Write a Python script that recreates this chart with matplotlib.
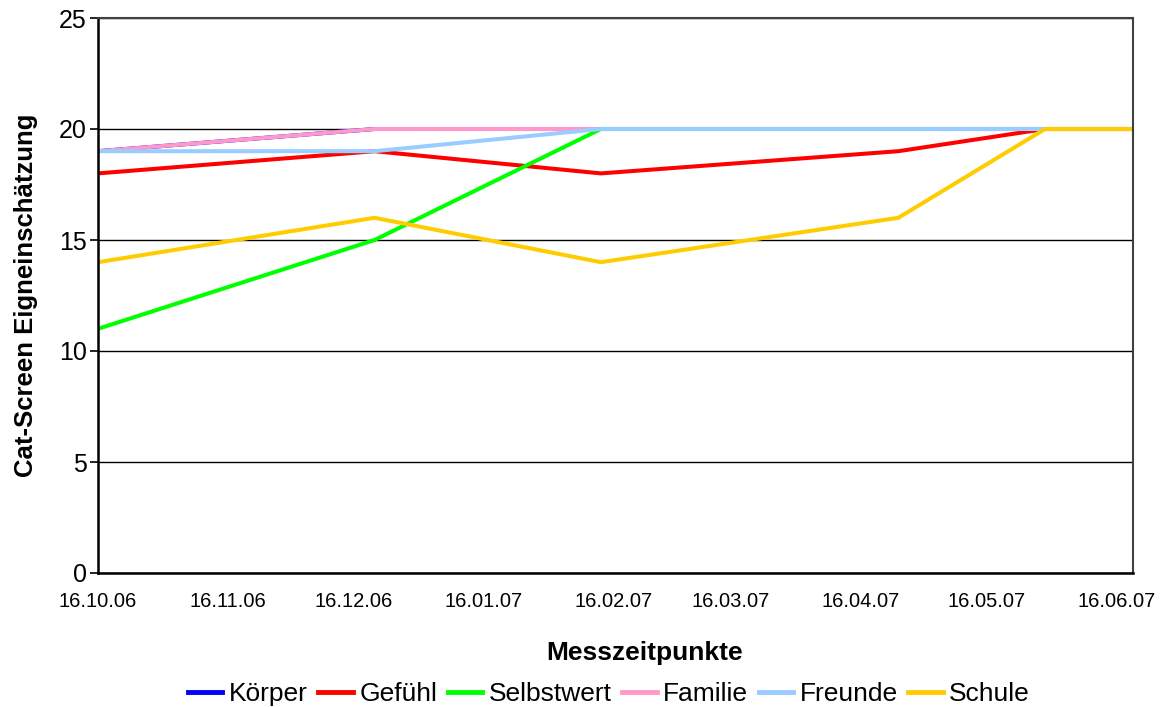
import numpy as np
import matplotlib.pyplot as plt
import matplotlib.dates as mdates
from datetime import datetime

plt.rcParams['font.family'] = ['Liberation Sans', 'DejaVu Sans']

#%% Data
dates = [datetime(2006, 10, 16), datetime(2006, 12, 21), datetime(2007, 2, 13),
         datetime(2007, 4, 25), datetime(2007, 5, 30), datetime(2007, 6, 20)]

koerper    = [19, 20, 20, 20, 20, 20]
gefuehl    = [18, 19, 18, 19, 20, 20]
selbstwert = [11, 15, 20, 20, 20, 20]
familie    = [19, 20, 20, 20, 20, 20]
freunde    = [19, 19, 20, 20, 20, 20]
schule     = [14, 16, 14, 16, 20, 20]

series = [("Körper", koerper, "#0000FF"),
          ("Gefühl", gefuehl, "#FF0000"),
          ("Selbstwert", selbstwert, "#00FF00"),
          ("Familie", familie, "#FF99CC"),
          ("Freunde", freunde, "#99CCFF"),
          ("Schule", schule, "#FFCC00")]

tick_dates = [datetime(2006, 10, 16), datetime(2006, 11, 16), datetime(2006, 12, 16),
              datetime(2007, 1, 16), datetime(2007, 2, 16), datetime(2007, 3, 16),
              datetime(2007, 4, 16), datetime(2007, 5, 16), datetime(2007, 6, 16)]

#%% Figure
fig = plt.figure(figsize=(11.62, 7.07), dpi=100)
ax = fig.add_axes([98/1162, 1 - 573/707, (1133 - 98)/1162, (573 - 18)/707])

for name, vals, col in series:
    ax.plot(dates, vals, color=col, lw=2.9, label=name, solid_joinstyle='miter')

ax.set_ylim(0, 25)
ax.set_yticks(np.arange(0, 26, 5))
ax.set_xlim(datetime(2006, 10, 16), datetime(2007, 6, 20))
ax.set_xticks(tick_dates)
ax.xaxis.set_major_formatter(mdates.DateFormatter('%d.%m.%y'))

ax.yaxis.grid(True, color='black', lw=1)
ax.set_axisbelow(True)
ax.tick_params(axis='y', labelsize=18, length=6, width=1.2, direction='out', pad=2)
ax.tick_params(axis='x', labelsize=14.5, length=0, pad=14)

for s in ['left', 'bottom']:
    ax.spines[s].set_color('black')
    ax.spines[s].set_linewidth(1.8)
for s in ['right', 'top']:
    ax.spines[s].set_color('#404040')
    ax.spines[s].set_linewidth(1.5)

ax.set_ylabel('Cat-Screen Eigneinschätzung', fontsize=18.5, fontweight='bold')
ax.yaxis.set_label_coords(-(98 - 38)/1035, 0.5)
ax.set_xlabel('Messzeitpunkte', fontsize=19, fontweight='bold')
ax.xaxis.set_label_coords((645 - 98)/1035, -(641 - 573)/555)

leg = fig.legend(loc='center', bbox_to_anchor=(609/1162, 1 - 694/707), ncol=6, frameon=False,
                 fontsize=19, handlelength=1.3, handletextpad=0.25, columnspacing=0.4,
                 borderpad=0, borderaxespad=0)
for h in leg.get_lines():
    h.set_linewidth(3.5)

fig.savefig('out.png', dpi=100)
